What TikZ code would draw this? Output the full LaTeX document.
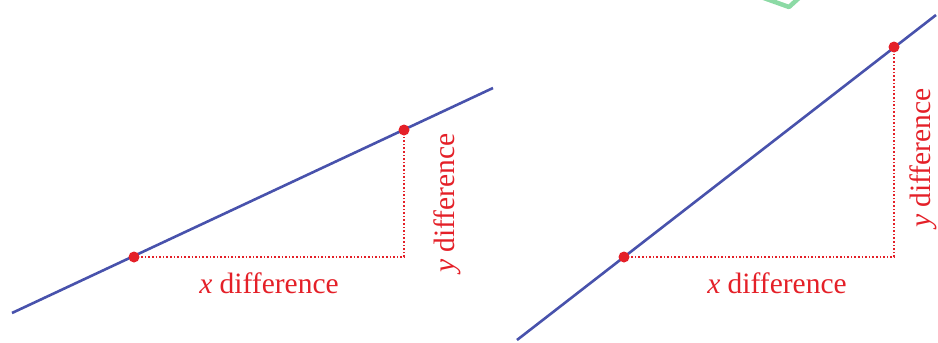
\documentclass[tikz,border=0pt]{standalone}
\usepackage{fontspec}
\setmainfont{Liberation Serif}
\definecolor{lineblue}{RGB}{72,82,172}
\definecolor{diffred}{RGB}{228,32,40}
\definecolor{markgreen}{RGB}{140,218,165}

\begin{document}
\begin{tikzpicture}[x=1pt,y=-1pt]
        \tikzstyle{every node}=[font=\fontsize{29.5}{32}\selectfont, text=diffred, inner sep=0pt]
        \tikzstyle{slope}=[color=lineblue, line width=2.6pt]
        \tikzstyle{diff}=[color=diffred, line width=1.6pt, dotted]
        \tikzstyle{dot}=[fill=diffred]
        \useasboundingbox (0,0) rectangle (938,343);

        % green mark at the top
        \begin{scope}
            \clip (0,0) rectangle (938,343);
            \draw [color=markgreen, line width=4.5pt, line join=round] (761,-3) -- (789,7) -- (800,-3);
        \end{scope}

        % left line
        \coordinate (la) at (12,313);
        \coordinate (lb) at (493,88);
        \coordinate (lp) at (134,257);
        \coordinate (lq) at (404,130);
        \coordinate (lc) at (404,257);
        \draw [slope] (la) -- (lb);
        \draw [diff] (lp) -- (lc) -- (lq);
        \fill [dot] (lp) circle (5.5);
        \fill [dot] (lq) circle (5.5);
            \node[anchor=base] (lx) at (269,293) {\textit{x} difference};
            \node[rotate=90, anchor=north] (ly) at (434,203) {\textit{y} difference};

        % right line
        \coordinate (ra) at (517,340);
        \coordinate (rb) at (936,15);
        \coordinate (rp) at (624,257);
        \coordinate (rq) at (894,47);
        \coordinate (rc) at (894,257);
        \draw [slope] (ra) -- (rb);
        \draw [diff] (rp) -- (rc) -- (rq);
        \fill [dot] (rp) circle (5.5);
        \fill [dot] (rq) circle (5.5);
            \node[anchor=base] (rx) at (777,293) {\textit{x} difference};
            \node[rotate=90, anchor=south] (ry) at (937,158) {\textit{y} difference};
\end{tikzpicture}
\end{document}
